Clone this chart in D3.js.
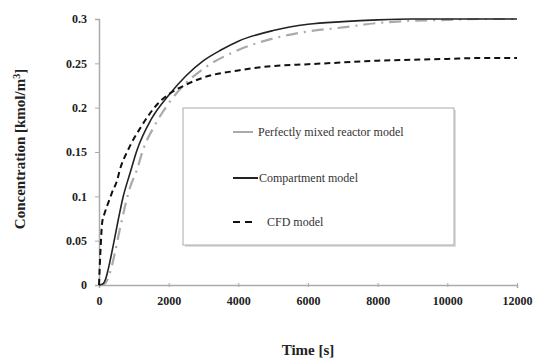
<!DOCTYPE html>
<html><head><meta charset="utf-8">
<script src="https://cdn.jsdelivr.net/npm/d3@7"></script>
</head><body style="margin:0">
<script>
const xTicks = [0, 2000, 4000, 6000, 8000, 10000, 12000];
const yTicks = [0, 0.05, 0.1, 0.15, 0.2, 0.25, 0.3];
const seriesNames = ["Perfectly mixed reactor model", "Compartment model", "CFD model"];

const mixedT = [0,150,300,450,610,890,1090,1260,1600,2000,2500,3000,4000,5000,6000,7000,8000,9000,10000,11000,12000];
const mixedC = [0,0.001,0.012,0.035,0.065,0.11,0.13,0.152,0.18,0.205,0.228,0.244,0.265,0.278,0.286,0.2905,0.2955,0.298,0.299,0.3,0.3];

const compT = [0,100,200,260,400,550,690,890,1090,1500,2000,2500,3000,3500,4000,5000,6000,7000,8000,9000,10000,12000];
const compC = [0,0.001,0.008,0.017,0.043,0.073,0.099,0.126,0.152,0.187,0.214,0.236,0.253,0.265,0.275,0.287,0.294,0.297,0.299,0.3,0.3,0.3];

const cfdT = [0,20,50,90,170,260,370,520,600,830,1200,1700,2000,2500,3000,4000,5000,6000,7000,8000,9000,10000,11000,12000];
const cfdC = [0,0.02,0.045,0.07,0.082,0.092,0.104,0.118,0.13,0.152,0.178,0.205,0.215,0.226,0.234,0.242,0.247,0.249,0.251,0.253,0.254,0.255,0.256,0.256];

const W = 534, H = 358;
const font = "Liberation Serif";
const svg = d3.select("body").append("svg").attr("width", W).attr("height", H)
  .style("display", "block").style("background", "#fff").style("font-family", font);
const x = d3.scaleLinear().domain([0, 12000]).range([99, 517]);
const y = d3.scaleLinear().domain([0, 0.3]).range([285, 19]);

// axes
const ya = svg.append("g").attr("transform", "translate(99,0)")
  .call(d3.axisLeft(y).tickValues(yTicks).tickSize(4).tickPadding(8).tickFormat(d => String(+d.toFixed(2))));
const xa = svg.append("g").attr("transform", "translate(0,285)")
  .call(d3.axisBottom(x).tickValues(xTicks).tickSize(3).tickPadding(8).tickFormat(d3.format("")));
[ya, xa].forEach(a => {
  a.attr("font-family", null).attr("font-size", null);
  a.selectAll("path.domain").attr("stroke", "#aaa").attr("stroke-width", 1.5);
  a.selectAll(".tick line").attr("stroke", "#aaa");
  a.selectAll("text").style("font-family", font).style("font-size", "12px").attr("fill", "#222").style("font-weight", "bold");
});
xa.selectAll(".tick line").attr("y1", -2).attr("y2", 2);

// legend box
svg.append("rect").attr("x", 185).attr("y", 110).attr("width", 271).attr("height", 137).attr("fill", "#ddd");
svg.append("rect").attr("x", 183).attr("y", 108).attr("width", 271).attr("height", 137)
  .attr("fill", "#fff").attr("stroke", "#aaa").attr("stroke-width", 1);

// lines
const mk = (T, C) => T.map((t, i) => [t, C[i]]);
const line = d3.line().x(d => x(d[0])).y(d => y(d[1])).curve(d3.curveMonotoneX);
const series = [
  {data: mk(mixedT, mixedC), color: "#aaa", width: 2.2, dash: "12,6,2,6"},
  {data: mk(compT, compC), color: "#222", width: 1.6, dash: null},
  {data: mk(cfdT, cfdC), color: "#111", width: 2, dash: "6,4"}
];
series.forEach(s => {
  svg.append("path").attr("d", line(s.data)).attr("fill", "none")
    .attr("stroke", s.color).attr("stroke-width", s.width)
    .attr("stroke-dasharray", s.dash);
});

// legend entries
const leg = [
  {y: 132, x1: 233, x2: 253, tx: 258, color: "#aaa", width: 2, dash: null},
  {y: 178, x1: 233, x2: 258, tx: 259, color: "#222", width: 2, dash: null},
  {y: 222, x1: 233, x2: 253, tx: 267, color: "#111", width: 2, dash: "7,5"}
];
leg.forEach((l, i) => {
  svg.append("line").attr("x1", l.x1).attr("x2", l.x2).attr("y1", l.y).attr("y2", l.y)
    .attr("stroke", l.color).attr("stroke-width", l.width).attr("stroke-dasharray", l.dash);
  svg.append("text").attr("x", l.tx).attr("y", l.y + 4).style("font-family", font)
    .style("font-size", "12px").attr("fill", "#333").text(seriesNames[i]);
});

// axis titles
svg.append("text").attr("x", 308).attr("y", 355).attr("text-anchor", "middle")
  .style("font-family", font).style("font-size", "15px").style("font-weight", "bold").attr("fill", "#222").text("Time [s]");
const yt = svg.append("text").attr("transform", "translate(25,149) rotate(-90)").attr("text-anchor", "middle")
  .style("font-family", font).style("font-size", "15px").style("font-weight", "bold").attr("fill", "#222");
yt.append("tspan").text("Concentration [kmol/m");
yt.append("tspan").attr("baseline-shift", "super").style("font-size", "10px").text("3");
yt.append("tspan").text("]");
</script>
</body></html>
